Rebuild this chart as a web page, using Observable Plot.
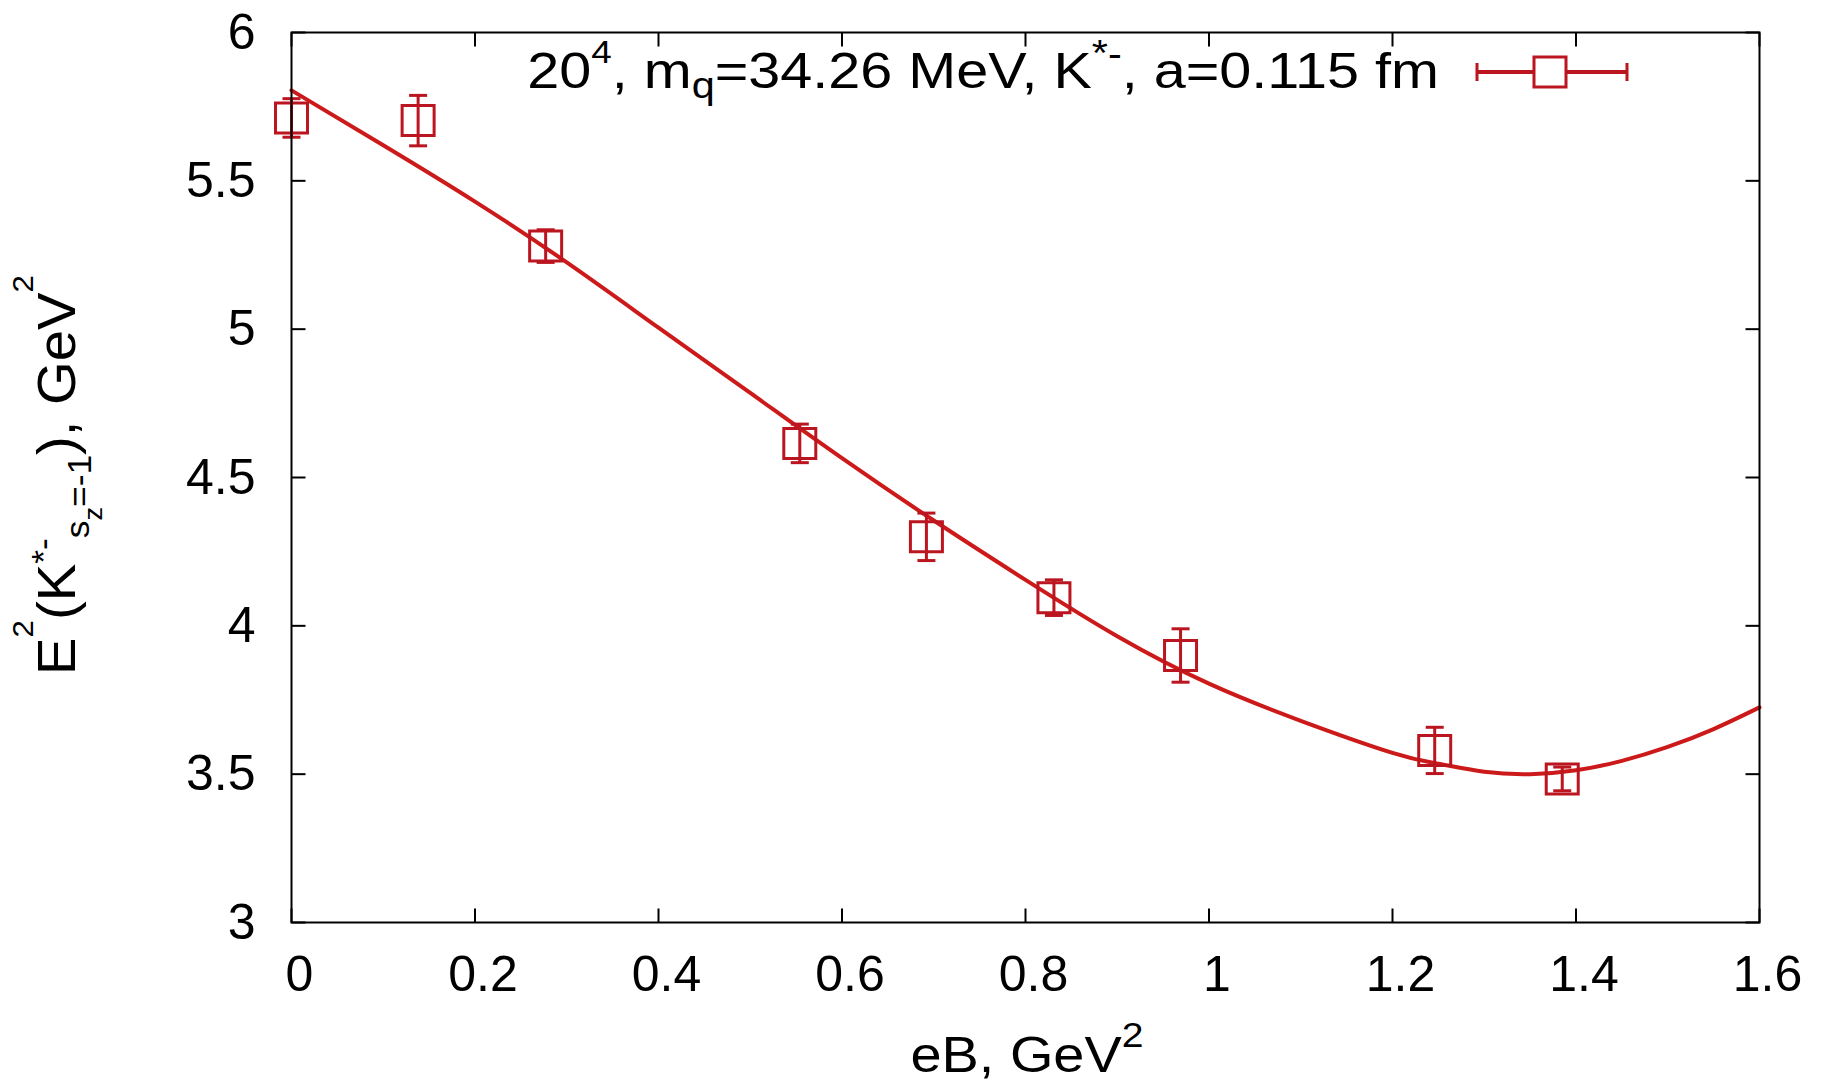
<!DOCTYPE html>
<html><head><meta charset="utf-8">
<script src="https://cdn.jsdelivr.net/npm/d3@7"></script>
<script src="https://cdn.jsdelivr.net/npm/@observablehq/plot@0.6"></script>
<style>
body{margin:0;background:#fff;}
svg{font-family:"Liberation Sans",Arial,Helvetica,sans-serif;}
</style>
</head><body><div id="chart"></div>
<script>
// Lattice data points: eB (GeV^2), E^2 (GeV^2), error
const eB    = [0, 0.138, 0.277, 0.554, 0.692, 0.831, 0.969, 1.246, 1.385];
const E2    = [5.712, 5.703, 5.280, 4.615, 4.300, 4.095, 3.900, 3.580, 3.484];
const E2err = [0.065, 0.085, 0.055, 0.065, 0.080, 0.060, 0.090, 0.078, 0.040];

// Fit curve
const fitX = [0, 0.1, 0.2, 0.3, 0.4, 0.5, 0.6, 0.7, 0.8, 0.9, 1.0, 1.1, 1.2, 1.25, 1.3, 1.35, 1.4, 1.45, 1.5, 1.55, 1.6];
const fitY = [5.805, 5.62, 5.43, 5.225, 5.005, 4.785, 4.565, 4.355, 4.155, 3.965, 3.805, 3.68, 3.572, 3.535, 3.508, 3.500, 3.513, 3.545, 3.592, 3.652, 3.725];

// Ticks
const xTicks = [0, 0.2, 0.4, 0.6, 0.8, 1, 1.2, 1.4, 1.6];
const yTicks = [3, 3.5, 4, 4.5, 5, 5.5, 6];

const W = 1822, H = 1089;
const lineRed = "#cc1a1a", markRed = "#bb1520";

const points = eB.map((x, i) => ({x, y: E2[i], lo: E2[i] - E2err[i], hi: E2[i] + E2err[i]}));
const fit = fitX.map((x, i) => ({x, y: fitY[i]}));

const capSym = {draw(ctx) { ctx.moveTo(-9, 0); ctx.lineTo(9, 0); }};
const boxSym = {draw(ctx) { ctx.rect(-16, -15, 32, 30); }};
const tUp = {draw(ctx) { ctx.moveTo(0, 0); ctx.lineTo(0, -14); }};
const tDown = {draw(ctx) { ctx.moveTo(0, 0); ctx.lineTo(0, 14); }};
const tRight = {draw(ctx) { ctx.moveTo(0, 0); ctx.lineTo(14, 0); }};
const tLeft = {draw(ctx) { ctx.moveTo(0, 0); ctx.lineTo(-14, 0); }};

const plot = Plot.plot({
  width: W, height: H,
  marginLeft: 291, marginRight: 63, marginTop: 32, marginBottom: 167,
  style: {background: "white", color: "black", fontFamily: '"Liberation Sans", Arial, sans-serif'},
  x: {domain: [0, 1.6]},
  y: {domain: [3, 6]},
  marks: [
    Plot.axisX({ticks: xTicks, tickSize: 0, tickPadding: 33, dx: 8, tickFormat: d => String(d), label: null, fontSize: 50}),
    Plot.axisY({ticks: yTicks, tickSize: 0, tickPadding: 36, tickFormat: d => String(d), label: null, fontSize: 50}),
    Plot.dot(xTicks, {x: d => d, y: () => 3, symbol: tUp, stroke: "black", strokeWidth: 2, fill: "none", r: 1}),
    Plot.dot(xTicks, {x: d => d, y: () => 6, symbol: tDown, stroke: "black", strokeWidth: 2, fill: "none", r: 1}),
    Plot.dot(yTicks, {y: d => d, x: () => 0, symbol: tRight, stroke: "black", strokeWidth: 2, fill: "none", r: 1}),
    Plot.dot(yTicks, {y: d => d, x: () => 1.6, symbol: tLeft, stroke: "black", strokeWidth: 2, fill: "none", r: 1}),
    Plot.line(fit, {x: "x", y: "y", stroke: lineRed, strokeWidth: 4, curve: "natural"}),
    Plot.ruleX(points, {x: "x", y1: "lo", y2: "hi", stroke: markRed, strokeWidth: 3}),
    Plot.dot(points, {x: "x", y: "lo", symbol: capSym, stroke: markRed, strokeWidth: 3, fill: "none", r: 1}),
    Plot.dot(points, {x: "x", y: "hi", symbol: capSym, stroke: markRed, strokeWidth: 3, fill: "none", r: 1}),
    Plot.dot(points, {x: "x", y: "y", symbol: boxSym, stroke: markRed, strokeWidth: 3, fill: "none", r: 1}),
    Plot.frame({stroke: "black", strokeWidth: 2})
  ]
});
document.getElementById("chart").append(plot);

const svg = d3.select(plot);

function addRich(parts, attrs) {
  const t = svg.append("text").attr("fill", "black");
  for (const [k, v] of Object.entries(attrs)) t.attr(k, v);
  let prev = 0;
  for (const [s, size, shift] of parts) {
    t.append("tspan").attr("dy", shift - prev).style("font-size", size + "px").text(s);
    prev = shift;
  }
  return t;
}
function stretchTo(t, target, ax) {
  const w = t.node().getBBox().width;
  const s = target / w;
  t.attr("transform", `translate(${ax},0) scale(${s},1) translate(${-ax},0)`);
}

// x label
const xl = addRich([["eB, GeV", 50, 0], ["2", 35, -25]],
  {x: 1027, y: 1072, "text-anchor": "middle"});
stretchTo(xl, 233, 1027);

// y label (rotated)
const yl = addRich([
  ["E", 54, 0], ["2", 30, -42], ["(K", 54, 0], ["*-", 34, -20],
  ["s", 34, 14], ["z", 26, 27], ["=-1", 34, 16], ["), GeV", 54, 0], ["2", 30, -42]
], {x: 0, y: 0, "text-anchor": "middle"});
{
  const w = yl.node().getBBox().width;
  yl.attr("transform", `translate(75,475) rotate(-90) scale(${400 / w},1)`);
}

// legend
const lg = addRich([
  ["20", 50, 0], ["4", 32, -25], [", m", 50, 0], ["q", 36, 10],
  ["=34.26 MeV, K", 50, 0], ["*-", 36, -22], [", a=0.115 fm", 50, 0]
], {x: 1439, y: 88, "text-anchor": "end"});
stretchTo(lg, 912, 1439);

const lgG = svg.append("g").attr("stroke", markRed).attr("stroke-width", 3).attr("fill", "none");
lgG.append("line").attr("x1", 1477).attr("x2", 1627).attr("y1", 72).attr("y2", 72).attr("stroke-width", 4);
lgG.append("line").attr("x1", 1477).attr("x2", 1477).attr("y1", 63).attr("y2", 81);
lgG.append("line").attr("x1", 1627).attr("x2", 1627).attr("y1", 63).attr("y2", 81);
lgG.append("rect").attr("x", 1534).attr("y", 57).attr("width", 32).attr("height", 30).attr("fill", "white");
</script>
</body></html>
